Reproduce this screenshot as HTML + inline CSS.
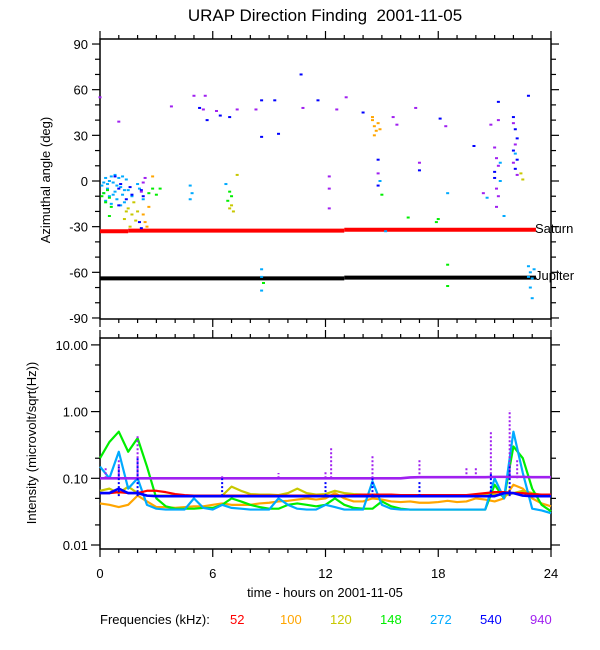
<!DOCTYPE html>
<html><head><meta charset="utf-8"><style>
body{margin:0;background:#fff;}
svg{display:block;font-family:"Liberation Sans",sans-serif;}
</style></head><body>
<svg id="chart" width="600" height="650" viewBox="0 0 600 650" xmlns="http://www.w3.org/2000/svg">
<rect width="600" height="650" fill="#fff"/>
<text x="325" y="21" text-anchor="middle" font-size="17" style="white-space:pre">URAP Direction Finding  2001-11-05</text>
<text transform="translate(50,180) rotate(-90)" text-anchor="middle" font-size="13">Azimuthal angle (deg)</text>
<text transform="translate(36,443) rotate(-90)" text-anchor="middle" font-size="13">Intensity (microvolt/sqrt(Hz))</text>
<text x="325" y="597" text-anchor="middle" font-size="13">time - hours on 2001-11-05</text>
<g id="topPanel"></g>
<g id="botPanel"></g>
<g id="legendG"></g>
</svg>
<script>
const freqLabels = ["52","100","120","148","272","540","940"];
const colors = ["#ff0000","#ffa500","#c8c800","#00ee00","#00aaff","#0000ff","#a020f0"];
const xTicks = [0,6,12,18,24];
const azTicks = [-90,-60,-30,0,30,60,90];
const intTicks = [0.01,0.1,1,10];
const intTickLabels = ["0.01","0.10","1.00","10.00"];
const hours = [];
for (let i=0;i<=48;i++) hours.push(i*0.5);
const red = [0.06,0.06,0.062,0.06,0.06,0.065,0.065,0.062,0.058,0.056,0.055,0.055,0.055,0.055,0.055,0.055,0.055,0.055,0.055,0.055,0.055,0.055,0.055,0.055,0.055,0.055,0.055,0.056,0.057,0.057,0.057,0.057,0.056,0.056,0.056,0.056,0.056,0.056,0.056,0.056,0.058,0.06,0.062,0.062,0.06,0.06,0.058,0.057,0.057];
const orange = [0.042,0.04,0.037,0.04,0.055,0.045,0.037,0.037,0.036,0.037,0.038,0.038,0.04,0.042,0.04,0.04,0.04,0.042,0.043,0.045,0.046,0.048,0.05,0.048,0.05,0.06,0.05,0.045,0.045,0.05,0.048,0.045,0.044,0.045,0.043,0.043,0.044,0.046,0.044,0.045,0.05,0.048,0.045,0.05,0.08,0.07,0.05,0.042,0.038];
const yellow = [0.065,0.07,0.06,0.075,0.06,0.055,0.055,0.055,0.055,0.055,0.055,0.055,0.055,0.055,0.075,0.065,0.058,0.057,0.057,0.056,0.06,0.07,0.06,0.057,0.058,0.065,0.06,0.058,0.057,0.056,0.056,0.056,0.056,0.056,0.056,0.056,0.056,0.056,0.056,0.056,0.056,0.056,0.058,0.055,0.06,0.065,0.06,0.056,0.055];
const green = [0.2,0.35,0.5,0.25,0.4,0.15,0.05,0.038,0.035,0.035,0.035,0.036,0.036,0.04,0.05,0.045,0.04,0.037,0.035,0.035,0.04,0.042,0.04,0.038,0.04,0.05,0.04,0.036,0.035,0.035,0.045,0.038,0.035,0.034,0.034,0.034,0.034,0.034,0.034,0.034,0.034,0.034,0.08,0.05,0.3,0.2,0.07,0.04,0.032];
const cyan = [0.15,0.1,0.25,0.07,0.1,0.04,0.035,0.034,0.034,0.034,0.05,0.036,0.034,0.04,0.036,0.035,0.034,0.034,0.034,0.05,0.04,0.035,0.034,0.034,0.04,0.037,0.034,0.034,0.034,0.09,0.04,0.035,0.034,0.034,0.034,0.034,0.034,0.034,0.034,0.034,0.034,0.034,0.1,0.05,0.5,0.12,0.035,0.033,0.03];
const blue = [0.06,0.06,0.07,0.06,0.06,0.055,0.054,0.054,0.054,0.054,0.054,0.054,0.054,0.054,0.054,0.054,0.054,0.054,0.054,0.054,0.054,0.054,0.054,0.054,0.054,0.054,0.054,0.054,0.054,0.054,0.054,0.054,0.054,0.054,0.054,0.054,0.054,0.054,0.054,0.054,0.054,0.054,0.054,0.06,0.06,0.055,0.054,0.054,0.054];
const purple = [0.1,0.1,0.1,0.1,0.1,0.1,0.1,0.1,0.1,0.1,0.1,0.1,0.1,0.1,0.1,0.1,0.1,0.1,0.1,0.1,0.1,0.1,0.1,0.1,0.1,0.1,0.1,0.1,0.1,0.1,0.1,0.1,0.1,0.103,0.104,0.104,0.104,0.104,0.104,0.104,0.104,0.104,0.105,0.105,0.105,0.105,0.104,0.104,0.104];
const purpleSpikeHours = [0.3,1.0,2.0,6.5,9.5,12.0,12.3,14.5,17.0,19.5,20.0,20.8,21.8,22.2];
const purpleSpikePeaks = [0.15,0.2,0.45,0.11,0.12,0.13,0.3,0.22,0.2,0.15,0.15,0.5,1.05,0.2];
const blueSpikeHours = [1.0,2.0,6.5,12.0,14.5,17.0,20.8,21.8];
const blueSpikePeaks = [0.15,0.2,0.1,0.09,0.1,0.09,0.12,0.15];
const saturnStart = [0,1.5,13];
const saturnEnd = [1.5,13,23.2];
const saturnDeg = [-33,-32.6,-32];
const jupiterStart = [0,13];
const jupiterEnd = [13,23.2];
const jupiterDeg = [-64,-63.5];
const azPoints = [
[0.1,-3,4],[0.2,-8,4],[0.3,2,4],[0.4,-5,4],[0.5,-10,4],[0.6,3,4],[0.7,-1,4],[0.8,-7,4],[0.9,-12,4],[1.0,2,4],[1.1,-4,4],[1.2,-9,4],[1.3,-14,4],[1.4,1,4],[0.3,-13,4],[0.6,-15,4],[0.9,-3,4],[1.2,3,4],[1.5,-6,4],[2.0,-2,4],[2.1,-5,4],[2.3,-12,4],[1.7,-10,4],[0.2,-1,4],[0.8,4,4],[1.1,-16,4],[0.4,-2,4],[0.7,-9,4],[1.3,-6,4],[0.5,0,4],
[0.8,3,5],[1.0,-5,5],[1.1,-2,5],[1.6,-4,5],[1.7,-9,5],[1.4,-12,5],[2.2,-6,5],[2.3,-10,5],[2.1,-27,5],[2.2,-31,5],[1.0,-16,5],
[0.1,-10,3],[0.3,-14,3],[0.5,-11,3],[0.6,-17,3],[0.2,-8,3],[0.4,-6,3],[2.8,-5,3],[3.0,-9,3],[3.2,-5,3],[2.6,-8,3],[0.5,-23,3],
[1.5,-18,2],[1.7,-22,2],[1.9,-26,2],[2.0,-20,2],[1.3,-25,2],[1.8,-14,2],[1.6,-30,2],[1.4,-20,2],
[2.4,-27,1],[2.5,-30,1],[2.3,-22,1],[2.6,-17,1],[2.8,3,1],
[0,55,6],[1.0,39,6],[2.3,-1,6],[2.2,-7,6],[2.4,2,6],
[4.8,-3,4],[4.9,-8,4],[4.8,-12,4],[6.7,-2,4],[6.9,-7,3],[6.8,-13,3],[7.0,-10,3],[7.0,-16,2],[6.9,-18,2],[7.1,-20,2],[7.3,4,2],
[3.8,49,6],[5.0,56,6],[5.5,47,6],[5.6,56,6],[6.2,46,6],[7.3,47,6],[8.3,47,6],
[5.3,48,5],[5.7,40,5],[6.4,43,5],[6.9,42,5],[8.6,53,5],[8.6,29,5],[9.3,53,5],[9.5,31,5],[10.7,70,5],[11.6,53,5],
[13.1,55,6],[10.8,48,6],[12.6,47,6],[14.0,45,5],
[14.5,40,1],[14.6,36,1],[14.7,33,1],[14.8,38,1],[14.6,30,1],[14.9,34,1],[14.5,42,1],
[15.6,42,6],[15.8,37,6],[16.8,48,6],[18.1,41,5],[18.4,36,6],[19.9,23,5],[21.2,52,5],[21.2,40,6],[20.8,37,6],[22.8,56,5],
[22.0,42,5],[22.1,34,5],[22.2,28,5],[22.0,20,5],[22.2,14,5],[22.1,8,5],[22.0,38,6],[22.1,24,6],[22.2,4,6],[22.0,12,6],[22.1,18,4],
[21.0,22,6],[21.1,15,6],[21.2,10,6],[21.0,2,5],[21.1,-5,6],[21.2,-10,6],[21.1,-17,6],[21.0,6,5],[21.3,0,4],[21.3,12,4],[20.4,-8,6],[20.6,-11,4],
[12.2,3,6],[12.2,-5,6],[12.2,-18,6],[14.8,5,6],[14.8,14,5],[14.8,-3,5],[14.9,0,4],[15.0,-9,3],[17.0,12,6],[17.0,7,5],[18.5,-8,4],
[16.4,-24,3],[18.0,-25,3],[17.9,-27,3],[21.5,-23,4],[15.2,-33,4],[18.5,-55,3],[18.5,-69,3],
[22.8,-56,4],[22.9,-60,4],[23.0,-64,4],[22.9,-70,4],[23.0,-77,4],[22.8,-63,4],[23.1,-58,4],[22.4,5,2],[22.5,1,2],
[8.6,-58,4],[8.6,-63,4],[8.6,-72,4],[8.7,-67,3]
];

const NS="http://www.w3.org/2000/svg";
const X0=100, X1=551;
function xT(h){return X0+(X1-X0)*h/24;}
function yA(d){return 181-d*1.522;}
function yI(v){return 545-(Math.log10(v)+2)*66.7;}
function mk(parent,tag,attrs){const e=document.createElementNS(NS,tag);for(const k in attrs)e.setAttribute(k,attrs[k]);parent.appendChild(e);return e;}
const gTop=document.getElementById('topPanel'), gBot=document.getElementById('botPanel'), gLeg=document.getElementById('legendG');

function frame(g,y0,y1,name){
  const r=mk(g,'rect',{x:X0,y:y0,width:X1-X0,height:y1-y0,fill:'none',stroke:'#000','stroke-width':1.5});
  
  
  for(let h=0;h<=24;h++){
    const L=(h%6===0)?8:4;
    mk(g,'line',{x1:xT(h),x2:xT(h),y1:y0,y2:y0-L,stroke:'#000','stroke-width':1.2});
    mk(g,'line',{x1:xT(h),x2:xT(h),y1:y1,y2:y1+L,stroke:'#000','stroke-width':1.2});
  }
}
frame(gTop,39,319,'direction-plot-frame');
for(let d=-90;d<=90;d+=10){
  const L=(d%30===0)?8:5;
  mk(gTop,'line',{x1:X0,x2:X0-L,y1:yA(d),y2:yA(d),stroke:'#000','stroke-width':1.2});
  mk(gTop,'line',{x1:X1,x2:X1+L,y1:yA(d),y2:yA(d),stroke:'#000','stroke-width':1.2});
}
azTicks.forEach(d=>{
  const t=mk(gTop,'text',{x:88,y:yA(d)+5,'text-anchor':'end','font-size':13});
  t.textContent=String(d);
  
  
});
saturnDeg.forEach((d,i)=>{
  const l=mk(gTop,'line',{x1:xT(saturnStart[i]),x2:xT(saturnEnd[i]),y1:yA(d),y2:yA(d),stroke:'#ff0000','stroke-width':4});
  
  
});
jupiterDeg.forEach((d,i)=>{
  const l=mk(gTop,'line',{x1:xT(jupiterStart[i]),x2:xT(jupiterEnd[i]),y1:yA(d),y2:yA(d),stroke:'#000','stroke-width':4});
  
  
});
azPoints.forEach(p=>{
  const r=mk(gTop,'rect',{x:xT(p[0])-1.5,y:yA(p[1])-1,width:3,height:2,fill:colors[p[2]]});
  
  
});
let tl=mk(gTop,'text',{x:535,y:233,'font-size':13}); tl.textContent='Saturn';


tl=mk(gTop,'text',{x:535,y:280,'font-size':13}); tl.textContent='Jupiter';



frame(gBot,338,549,'intensity-plot-frame');
intTicks.forEach((v,i)=>{
  mk(gBot,'line',{x1:X0,x2:X0-9,y1:yI(v),y2:yI(v),stroke:'#000','stroke-width':1.2});
  mk(gBot,'line',{x1:X1,x2:X1+9,y1:yI(v),y2:yI(v),stroke:'#000','stroke-width':1.2});
  if(v<10){[2,5].forEach(m=>{const y=yI(v*m);
    mk(gBot,'line',{x1:X0,x2:X0-5,y1:y,y2:y,stroke:'#000','stroke-width':1.2});
    mk(gBot,'line',{x1:X1,x2:X1+5,y1:y,y2:y,stroke:'#000','stroke-width':1.2});});}
  const tx=mk(gBot,'text',{x:88,y:yI(v)+5,'text-anchor':'end','font-size':13});
  tx.textContent=intTickLabels[i];
  
  
});
const series=[red,orange,yellow,green,cyan,blue,purple];
function spikes(hs,ps,base,col,name){
  hs.forEach((h,i)=>{
    const l=mk(gBot,'line',{x1:xT(h),x2:xT(h),y1:yI(base),y2:yI(ps[i]),stroke:col,'stroke-width':2,'stroke-dasharray':'2,2'});
    
    
  });
}
[1,2,3,4,0].forEach(k=>{
  const pl=mk(gBot,'polyline',{points:hours.map((h,i)=>xT(h)+','+yI(series[k][i])).join(' '),fill:'none',stroke:colors[k],'stroke-width':2.2,'stroke-linejoin':'round'});
  
  
});
spikes(purpleSpikeHours,purpleSpikePeaks,0.1,colors[6],'spike-940khz');
[6,5].forEach(k=>{
  const pl=mk(gBot,'polyline',{points:hours.map((h,i)=>xT(h)+','+yI(series[k][i])).join(' '),fill:'none',stroke:colors[k],'stroke-width':2.6,'stroke-linejoin':'round'});
  
  
});
spikes(blueSpikeHours,blueSpikePeaks,0.054,colors[5],'spike-540khz');

xTicks.forEach(h=>{
  const tx=mk(gBot,'text',{x:xT(h),y:578,'text-anchor':'middle','font-size':13});
  tx.textContent=String(h);
  
  
});
tl=mk(gLeg,'text',{x:100,y:624,'font-size':13}); tl.textContent='Frequencies (kHz):';


freqLabels.forEach((f,i)=>{
  const e=mk(gLeg,'text',{x:230+i*50,y:624,'font-size':13,fill:colors[i]});
  e.textContent=f;
  
  
});
</script>
</body></html>
